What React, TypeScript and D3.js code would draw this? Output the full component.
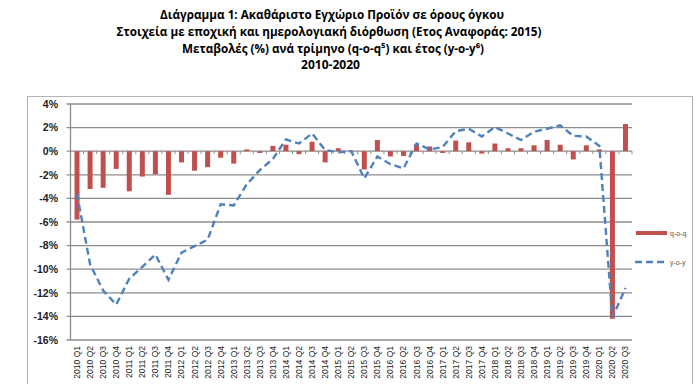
import React from "react";
import * as d3 from "d3";

const years = ["2010","2011","2012","2013","2014","2015","2016","2017","2018","2019","2020"];
const quarters = ["Q1","Q2","Q3","Q4"];
const categories: string[] = [];
years.forEach((yr) => quarters.forEach((q) => categories.push(`${yr} ${q}`)));
categories.splice(43);

const qoq = [
  -5.8, -3.2, -3.1, -1.5,
  -3.4, -2.15, -1.95, -3.7,
  -0.95, -1.65, -1.35, -0.55,
  -1.05, 0.15, -0.15, 0.45,
  0.55, -0.25, 0.8, -0.95,
  0.25, 0.05, -1.55, 0.95,
  -0.45, -0.4, 0.6, 0.4,
  -0.15, 0.9, 0.75, -0.2,
  0.65, 0.25, 0.25, 0.5,
  0.95, 0.55, -0.7, 0.5,
  0.15, -14.2, 2.3,
];

const yoy = [
  -3.6, -9.6, -11.8, -13.0,
  -10.8, -9.8, -8.75, -10.9,
  -8.6, -8.05, -7.5, -4.5,
  -4.6, -2.8, -1.6, -0.65,
  1.0, 0.65, 1.5, 0.1,
  -0.1, 0.0, -2.3, -0.45,
  -1.1, -1.45, 0.65, 0.15,
  0.35, 1.7, 1.9, 1.25,
  2.05, 1.5, 0.95, 1.65,
  1.9, 2.2, 1.3, 1.25,
  0.45, -14.1, -11.6,
];

const yTicks = [4, 2, 0, -2, -4, -6, -8, -10, -12, -14, -16];

const titleLines = [
  "Διάγραμμα 1: Ακαθάριστο Εγχώριο Προϊόν σε όρους όγκου",
  "Στοιχεία με εποχική και ημερολογιακή διόρθωση (Ετος Αναφοράς: 2015)",
  "Μεταβολές (%) ανά τρίμηνο (q-o-q\u2075) και έτος (y-o-y\u2076)",
  "2010-2020",
];

export default function App() {
  const W = 700, H = 384;
  const left = 70.5, right = 632, top = 104, bottom = 340;
  const x = d3.scaleBand<string>().domain(categories).range([left, right]).padding(0);
  const y = d3.scaleLinear().domain([-16, 4]).range([bottom, top]);
  const bw = 5;
  const cx = (c: string) => (x(c) as number) + x.bandwidth() / 2;
  const line = d3
    .line<number>()
    .x((_, i) => cx(categories[i]))
    .y((d) => y(d));
  const font = "'Open Sans', 'Noto Sans', 'DejaVu Sans', sans-serif";
  const gridColor = "#8c8c8c";
  return (
    <svg width={W} height={H} style={{ position: "absolute", left: 0, top: 0, background: "#fff" }}>
      <rect x={0} y={0} width={W} height={H} fill="#fff" />
      {/* title */}
      <g fontFamily={font} fontWeight="bold" fontSize={12.5} fill="#000" textAnchor="middle">
        <text x={332} y={19} textLength={344} lengthAdjust="spacingAndGlyphs">{titleLines[0]}</text>
        <text x={329} y={36} textLength={425} lengthAdjust="spacingAndGlyphs">{titleLines[1]}</text>
        <text x={333} y={53} textLength={302} lengthAdjust="spacingAndGlyphs">{titleLines[2]}</text>
        <text x={330.5} y={69} textLength={59} lengthAdjust="spacingAndGlyphs">{titleLines[3]}</text>
      </g>
      {/* frame */}
      <rect x={27.5} y={96.5} width={665} height={300} fill="none" stroke="#b5b5b5" strokeWidth={1} />
      {/* grid */}
      <g>
        {yTicks.map((t) => (
          <line key={t} x1={left - 4} x2={right} y1={y(t)} y2={y(t)} stroke={gridColor} strokeWidth={1.3} />
        ))}
        <line x1={left} x2={left} y1={top} y2={bottom} stroke={gridColor} strokeWidth={1.3} />
        {categories.map((c, i) => (
          <line key={"tk" + i} x1={(x(c) as number) + x.bandwidth()} x2={(x(c) as number) + x.bandwidth()} y1={y(0)} y2={y(0) + 3} stroke={gridColor} strokeWidth={1} />
        ))}
      </g>
      {/* y labels */}
      <g fontFamily="'Liberation Sans', Arial, sans-serif" fontWeight="bold" fontSize={10.5} fill="#222" textAnchor="end">
        {yTicks.map((t) => (
          <text key={t} x={58} y={y(t) + 3.8}>{`${t}%`}</text>
        ))}
      </g>
      {/* bars */}
      <g fill="#C0504D">
        {qoq.map((v, i) => (
          <rect key={i} x={cx(categories[i]) - bw / 2} width={bw} y={Math.min(y(v), y(0))} height={Math.abs(y(v) - y(0))} />
        ))}
      </g>
      {/* line */}
      <path d={line(yoy) || ""} fill="none" stroke="#4F81BD" strokeWidth={2.4} strokeDasharray="7,4" />
      {/* x labels */}
      <g fontFamily="'Liberation Sans', Arial, sans-serif" fontSize={8.5} fill="#222" textAnchor="end">
        {categories.map((c) => (
          <text key={c} transform={`translate(${cx(c) + 3},${bottom + 6}) rotate(-90)`}>{c}</text>
        ))}
      </g>
      {/* legend */}
      <g fontFamily="'Liberation Sans', Arial, sans-serif" fontSize={7} fill="#555">
        <rect x={636} y={231} width={31} height={4} fill="#C0504D" />
        <text x={670} y={235.5}>q-o-q</text>
        <line x1={635} x2={667} y1={262} y2={262} stroke="#4F81BD" strokeWidth={2.4} strokeDasharray="7,4" />
        <text x={670} y={264.5}>y-o-y</text>
      </g>
    </svg>
  );
}
